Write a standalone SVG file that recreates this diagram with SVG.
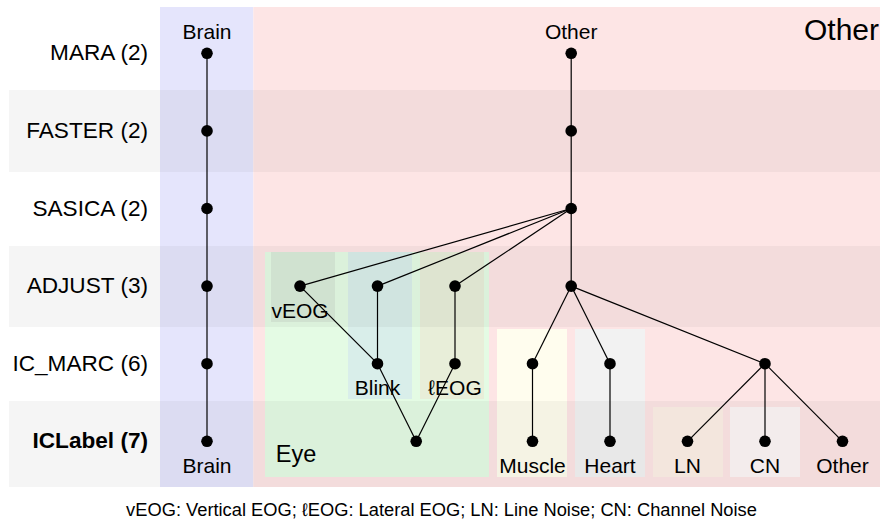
<svg xmlns="http://www.w3.org/2000/svg" width="883" height="524" viewBox="0 0 883 524">
<style>
  text { font-family: "Liberation Sans", Arial, sans-serif; fill: #000; }
  .row { font-size: 22.6px; text-anchor: end; }
  .nl { font-size: 21px; text-anchor: middle; }
  .edge { stroke: #000; stroke-width: 1.2; fill: none; }
  .dot { fill: #000; }
  .band { fill: #000; fill-opacity: 0.04; }
</style>
<g id="background">
  <rect x="160" y="7" width="93.3" height="480" fill="#e5e5fc"/>
  <rect x="253.3" y="7" width="626.7" height="480" fill="#fde5e5"/>
  <rect id="eye-region" x="265" y="252" width="224" height="225" fill="#e4fbe4"/>
  <rect x="271" y="252" width="64" height="70" fill="#d9ecd9"/>
  <rect x="348" y="252" width="64" height="147" fill="#d9eeea"/>
  <rect x="420" y="252" width="64" height="147" fill="#e8eed9"/>
  <rect x="497" y="329" width="70" height="148" fill="#fffdee"/>
  <rect x="575" y="329" width="70" height="148" fill="#f2f2f2"/>
  <rect x="653" y="407" width="70" height="70" fill="#fdf0e6"/>
  <rect x="730" y="407" width="70" height="70" fill="#fdf6f6"/>
  <rect class="band" x="9" y="90" width="871" height="82"/>
  <rect class="band" x="9" y="246" width="871" height="81"/>
  <rect class="band" x="9" y="401" width="871" height="86"/>
  <text x="879" y="40" style="font-size:30px" text-anchor="end">Other</text>
  <text x="296" y="462" style="font-size:23.5px" text-anchor="middle">Eye</text>
</g>
<g id="row-labels">
  <text class="row" x="148" y="60">MARA (2)</text>
  <text class="row" x="148" y="138">FASTER (2)</text>
  <text class="row" x="148" y="216">SASICA (2)</text>
  <text class="row" x="148" y="293">ADJUST (3)</text>
  <text class="row" x="148" y="371">IC_MARC (6)</text>
  <text class="row" x="148" y="448" font-weight="bold">ICLabel (7)</text>
</g>
<g id="connectors">
  <line class="edge" x1="207" y1="53.3" x2="207" y2="441.3"/>
  <line class="edge" x1="571.2" y1="53.3" x2="571.2" y2="286.1"/>
  <line class="edge" x1="571.2" y1="208.5" x2="300" y2="286.1"/>
  <line class="edge" x1="571.2" y1="208.5" x2="377.5" y2="286.1"/>
  <line class="edge" x1="571.2" y1="208.5" x2="455" y2="286.1"/>
  <line class="edge" x1="300" y1="286.1" x2="377.5" y2="363.7"/>
  <line class="edge" x1="377.5" y1="286.1" x2="377.5" y2="363.7"/>
  <line class="edge" x1="455" y1="286.1" x2="455" y2="363.7"/>
  <line class="edge" x1="377.5" y1="363.7" x2="416.2" y2="441.3"/>
  <line class="edge" x1="455" y1="363.7" x2="416.2" y2="441.3"/>
  <line class="edge" x1="571.2" y1="286.1" x2="532.5" y2="363.7"/>
  <line class="edge" x1="571.2" y1="286.1" x2="610" y2="363.7"/>
  <line class="edge" x1="571.2" y1="286.1" x2="765" y2="363.7"/>
  <line class="edge" x1="532.5" y1="363.7" x2="532.5" y2="441.3"/>
  <line class="edge" x1="610" y1="363.7" x2="610" y2="441.3"/>
  <line class="edge" x1="765" y1="363.7" x2="687.5" y2="441.3"/>
  <line class="edge" x1="765" y1="363.7" x2="765" y2="441.3"/>
  <line class="edge" x1="765" y1="363.7" x2="842.5" y2="441.3"/>
</g>
<g id="brain-mara"><circle class="dot" cx="207" cy="53.3" r="5.8"/><text class="nl" x="207" y="39">Brain</text></g>
<g id="brain-faster"><circle class="dot" cx="207" cy="130.9" r="5.8"/></g>
<g id="brain-sasica"><circle class="dot" cx="207" cy="208.5" r="5.8"/></g>
<g id="brain-adjust"><circle class="dot" cx="207" cy="286.1" r="5.8"/></g>
<g id="brain-icmarc"><circle class="dot" cx="207" cy="363.7" r="5.8"/></g>
<g id="brain-iclabel"><circle class="dot" cx="207" cy="441.3" r="5.8"/><text class="nl" x="207" y="473">Brain</text></g>
<g id="other-mara"><circle class="dot" cx="571.2" cy="53.3" r="5.8"/><text class="nl" x="571.2" y="39">Other</text></g>
<g id="other-faster"><circle class="dot" cx="571.2" cy="130.9" r="5.8"/></g>
<g id="other-sasica"><circle class="dot" cx="571.2" cy="208.5" r="5.8"/></g>
<g id="other-adjust"><circle class="dot" cx="571.2" cy="286.1" r="5.8"/></g>
<g id="veog-adjust"><circle class="dot" cx="300" cy="286.1" r="5.8"/><text class="nl" x="300" y="318">vEOG</text></g>
<g id="blink-adjust"><circle class="dot" cx="377.5" cy="286.1" r="5.8"/></g>
<g id="leog-adjust"><circle class="dot" cx="455" cy="286.1" r="5.8"/></g>
<g id="blink-icmarc"><circle class="dot" cx="377.5" cy="363.7" r="5.8"/><text class="nl" x="377.5" y="395">Blink</text></g>
<g id="leog-icmarc"><circle class="dot" cx="455" cy="363.7" r="5.8"/><text class="nl" x="455" y="395">ℓEOG</text></g>
<g id="muscle-icmarc"><circle class="dot" cx="532.5" cy="363.7" r="5.8"/></g>
<g id="heart-icmarc"><circle class="dot" cx="610" cy="363.7" r="5.8"/></g>
<g id="other-icmarc"><circle class="dot" cx="765" cy="363.7" r="5.8"/></g>
<g id="eye-iclabel"><circle class="dot" cx="416.2" cy="441.3" r="5.8"/></g>
<g id="muscle-iclabel"><circle class="dot" cx="532.5" cy="441.3" r="5.8"/><text class="nl" x="532.5" y="473">Muscle</text></g>
<g id="heart-iclabel"><circle class="dot" cx="610" cy="441.3" r="5.8"/><text class="nl" x="610" y="473">Heart</text></g>
<g id="ln-iclabel"><circle class="dot" cx="687.5" cy="441.3" r="5.8"/><text class="nl" x="687.5" y="473">LN</text></g>
<g id="cn-iclabel"><circle class="dot" cx="765" cy="441.3" r="5.8"/><text class="nl" x="765" y="473">CN</text></g>
<g id="other-iclabel"><circle class="dot" cx="842.5" cy="441.3" r="5.8"/><text class="nl" x="842.5" y="473">Other</text></g>
<text x="441.5" y="516" style="font-size:18.3px" text-anchor="middle">vEOG: Vertical EOG; ℓEOG: Lateral EOG; LN: Line Noise; CN: Channel Noise</text>
</svg>
